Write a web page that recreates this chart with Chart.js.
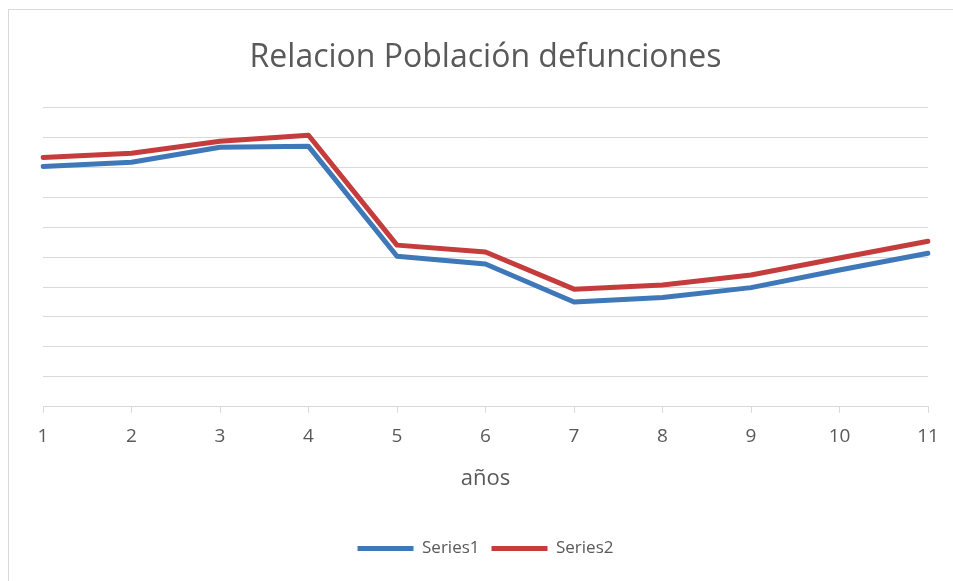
<!DOCTYPE html>
<html lang="es">
<head>
<meta charset="utf-8">
<title>Relacion Población defunciones</title>
<script src="https://cdn.jsdelivr.net/npm/chart.js@4"></script>
<style>
  html, body { margin: 0; padding: 0; background: #fff; }
  #frame {
    position: absolute; left: 8px; top: 9px; width: 960px; height: 600px;
    border-left: 1px solid #D9D9D9; border-top: 1px solid #D9D9D9;
  }
  #wrap { position: absolute; left: 0; top: 0; width: 953px; height: 581px; }
</style>
</head>
<body>
<div id="frame"></div>
<div id="wrap"><canvas id="chart"></canvas></div>
<script>
// ── datos ────────────────────────────────────────────────
const years   = ["1", "2", "3", "4", "5", "6", "7", "8", "9", "10", "11"];
const series1 = [8.03, 8.17, 8.67, 8.70, 5.03, 4.77, 3.50, 3.65, 3.98, 4.57, 5.13];
const series2 = [8.33, 8.47, 8.87, 9.07, 5.40, 5.17, 3.93, 4.07, 4.40, 4.97, 5.53];

const GRAY_TEXT = "#595959";
const GRID      = "#D9D9D9";
const FONT      = "'Open Sans', 'DejaVu Sans', sans-serif";

new Chart(document.getElementById("chart"), {
  type: "line",
  data: {
    labels: years,
    datasets: [
      { label: "Series1", data: series1, borderColor: "#3E78B9", backgroundColor: "#3E78B9",
        borderWidth: 5, pointRadius: 0, tension: 0, borderCapStyle: "round", borderJoinStyle: "round" },
      { label: "Series2", data: series2, borderColor: "#C43C3C", backgroundColor: "#C43C3C",
        borderWidth: 5, pointRadius: 0, tension: 0, borderCapStyle: "round", borderJoinStyle: "round" },
    ],
  },
  options: {
    responsive: true,
    maintainAspectRatio: false,
    animation: false,
    layout: { padding: { left: 43, right: 25, top: 0, bottom: 14 } },
    plugins: {
      title: {
        display: true,
        text: "Relacion Población defunciones",
        color: GRAY_TEXT,
        font: { family: FONT, size: 32, weight: "normal" },
        padding: { top: 39, bottom: 30 },
      },
      legend: {
        position: "bottom",
        labels: {
          color: GRAY_TEXT,
          font: { family: FONT, size: 17 },
          boxWidth: 56,
          boxHeight: 5,
          padding: 12,
          generateLabels: chart => chart.data.datasets.map((ds, i) => ({
            text: ds.label, fillStyle: ds.borderColor, strokeStyle: ds.borderColor,
            lineWidth: 0, datasetIndex: i, fontColor: GRAY_TEXT,
          })),
        },
      },
      tooltip: { enabled: false },
    },
    scales: {
      x: {
        offset: false,
        grid: { drawOnChartArea: false, drawTicks: true, tickLength: 6, color: GRID },
        border: { color: GRID },
        ticks: { color: GRAY_TEXT, font: { family: FONT, size: 19 }, padding: 12, maxRotation: 0 },
        title: {
          display: true, text: "años", color: GRAY_TEXT,
          font: { family: FONT, size: 22 }, padding: { top: 6, bottom: 36 },
        },
      },
      y: {
        min: 0, max: 10,
        ticks: { display: false, stepSize: 1 },
        grid: { color: GRID, drawTicks: false },
        border: { display: false },
      },
    },
  },
});
</script>
</body>
</html>
